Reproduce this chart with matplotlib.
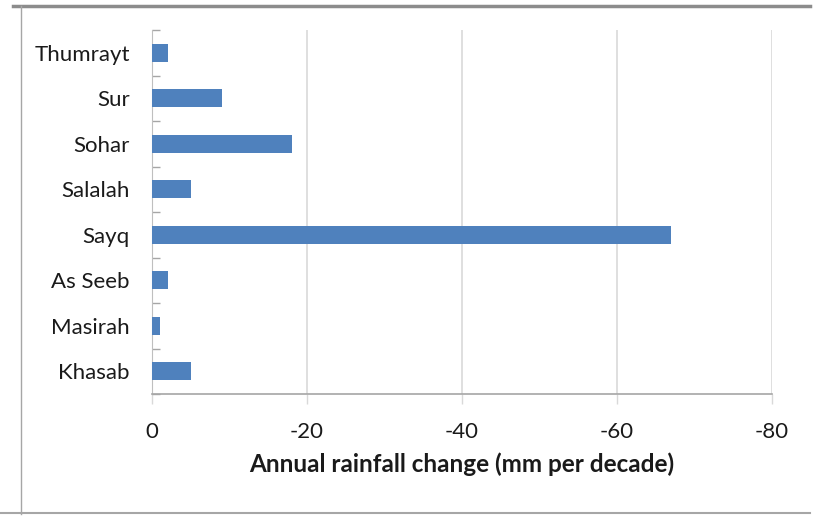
import matplotlib
matplotlib.use("Agg")
import matplotlib.pyplot as plt
from matplotlib.lines import Line2D
import numpy as np

# Stations, listed top to bottom
stations = ["Thumrayt", "Sur", "Sohar", "Salalah", "Sayq", "As Seeb", "Masirah", "Khasab"]
# Annual rainfall trend (mm per decade)
change = [-2, -9, -18, -5, -67, -2, -1, -5]
x_ticks = [0, -20, -40, -60, -80]

plt.rcParams["font.family"] = ["Lato", "DejaVu Sans"]
text_color = "#1a1a1a"

fig = plt.figure(figsize=(8.17, 5.16), dpi=100)
ax = fig.add_axes([152 / 817, 1 - 394 / 516, 620 / 817, 364 / 516])

y = np.arange(len(stations))
ax.barh(y, change, height=0.4, color="#4F81BD", zorder=3)

ax.set_ylim(len(stations) - 0.5, -0.5)
ax.set_yticks(y)
ax.set_yticklabels(stations, fontsize=16, color=text_color)
ax.set_yticks(np.arange(-0.5, len(stations)), minor=True)
ax.tick_params(axis="y", which="major", length=0, pad=16)
ax.tick_params(axis="y", which="minor", direction="in", length=6, width=1, color="#a6a6a6")

ax.set_xlim(0, -80)
ax.set_xticks(x_ticks)
ax.set_xticklabels([str(v) for v in x_ticks], fontsize=16, color=text_color)
ax.tick_params(axis="x", which="major", direction="out", length=7, width=1,
               color="#d9d9d9", pad=13)
ax.grid(axis="x", color="#d9d9d9", linewidth=1.2, zorder=0)

ax.set_xlabel("Annual rainfall change (mm per decade)", fontsize=17.5,
              fontweight="bold", color=text_color, labelpad=8)

for side in ("top", "right"):
    ax.spines[side].set_visible(False)
ax.spines["left"].set_color("#bfbfbf")
ax.spines["bottom"].set_color("#a6a6a6")
ax.spines["bottom"].set_linewidth(1.2)

# Outer frame: heavy top rule, thin left and bottom rules
fig.add_artist(Line2D([13 / 817, 810 / 817], [1 - 6 / 516, 1 - 6 / 516],
                      color="#8c8c8c", linewidth=2.5))
fig.add_artist(Line2D([21 / 817, 21 / 817], [1 - 6 / 516, 1 - 514 / 516],
                      color="#a6a6a6", linewidth=1))
fig.add_artist(Line2D([0, 810 / 817], [1 - 513 / 516, 1 - 513 / 516],
                      color="#a6a6a6", linewidth=1.5))

fig.savefig("out.png", dpi=100)
